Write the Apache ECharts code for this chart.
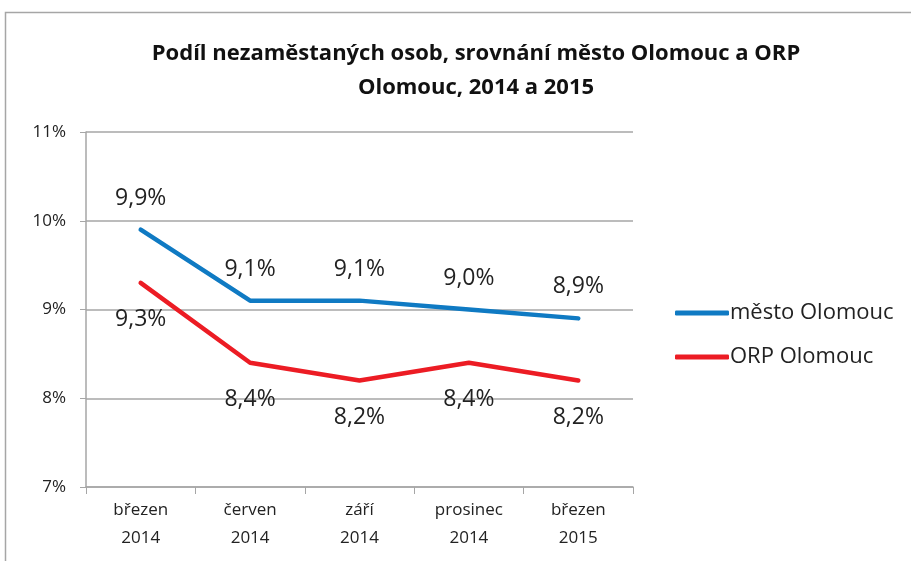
<!DOCTYPE html>
<html>
<head>
<meta charset="utf-8">
<script src="https://cdn.jsdelivr.net/npm/echarts@6/dist/echarts.min.js"></script>
<style>
  html, body { margin: 0; padding: 0; background: #fff; }
  #main { width: 911px; height: 561px; }
</style>
</head>
<body>
<div id="main"></div>
<script>
'use strict'
// podil nezamestnanych - mesto vs ORP

var categories = ['březen\n2014', 'červen\n2014', 'září\n2014', 'prosinec\n2014', 'březen\n2015'];
var mestoValues = [9.9, 9.1, 9.1, 9.0, 8.9];
var orpValues = [9.3, 8.4, 8.2, 8.4, 8.2];
var seriesNames = ['město Olomouc', 'ORP Olomouc'];
var colors = ['#0f7ac3', '#ec1c24'];

var font = '"Open Sans", sans-serif';

function fmt(v) {
    return v.toFixed(1).replace('.', ',') + '%';
}

var option = {
    animation: false,
    color: colors,
    title: {
        text: 'Podíl nezaměstaných osob, srovnání město Olomouc a ORP\nOlomouc, 2014 a 2015',
        left: 471,
        textAlign: 'center',
        top: 32,
        textStyle: {
            fontFamily: font,
            fontSize: 22,
            fontWeight: 'bold',
            color: '#111',
            lineHeight: 34
        }
    },
    legend: {
        orient: 'vertical',
        left: 670,
        top: 297,
        itemWidth: 54,
        itemHeight: 5,
        itemGap: 22,
        icon: 'roundRect',
        data: seriesNames,
        textStyle: {
            fontFamily: font,
            fontSize: 22,
            color: '#222',
            padding: [0, 0, 0, -4]
        }
    },
    grid: {
        left: 86,
        top: 132,
        width: 547,
        height: 355
    },
    xAxis: {
        type: 'category',
        data: categories,
        boundaryGap: true,
        axisLine: { lineStyle: { color: '#a6a6a6', width: 1.5 } },
        axisTick: { show: true, length: 7, lineStyle: { color: '#a6a6a6' } },
        axisLabel: {
            fontFamily: font,
            fontSize: 17,
            color: '#222',
            lineHeight: 28,
            margin: 9
        }
    },
    yAxis: {
        type: 'value',
        min: 7,
        max: 11,
        interval: 1,
        axisLine: { show: true, lineStyle: { color: '#a6a6a6', width: 1.5 } },
        axisTick: { show: true, length: 6, lineStyle: { color: '#a6a6a6' } },
        splitLine: { lineStyle: { color: '#a6a6a6', width: 1.5 } },
        axisLabel: {
            fontFamily: font,
            fontSize: 17,
            color: '#222',
            margin: 20,
            formatter: '{value}%'
        }
    },
    series: [
        {
            name: seriesNames[0],
            type: 'line',
            data: mestoValues,
            symbol: 'circle',
            symbolSize: 2,
            lineStyle: { width: 4.5, cap: 'round' },
            label: {
                show: true,
                position: 'top',
                distance: 19,
                fontFamily: font,
                fontSize: 23,
                color: '#222',
                formatter: function (p) { return fmt(p.value); }
            }
        },
        {
            name: seriesNames[1],
            type: 'line',
            data: orpValues,
            symbol: 'circle',
            symbolSize: 2,
            lineStyle: { width: 4.5, cap: 'round' },
            label: {
                show: true,
                position: 'bottom',
                distance: 24,
                fontFamily: font,
                fontSize: 23,
                color: '#222',
                formatter: function (p) { return fmt(p.value); }
            }
        }
    ],
    graphic: [
        {
            type: 'rect',
            shape: { x: 5.5, y: 12.5, width: 1000, height: 700 },
            style: { fill: 'none', stroke: '#a6a6a6', lineWidth: 1.5 },
            silent: true,
            z: -1
        }
    ]
};

var myChart = echarts.init(document.getElementById('main'));
myChart.setOption(option);
</script>
</body>
</html>
